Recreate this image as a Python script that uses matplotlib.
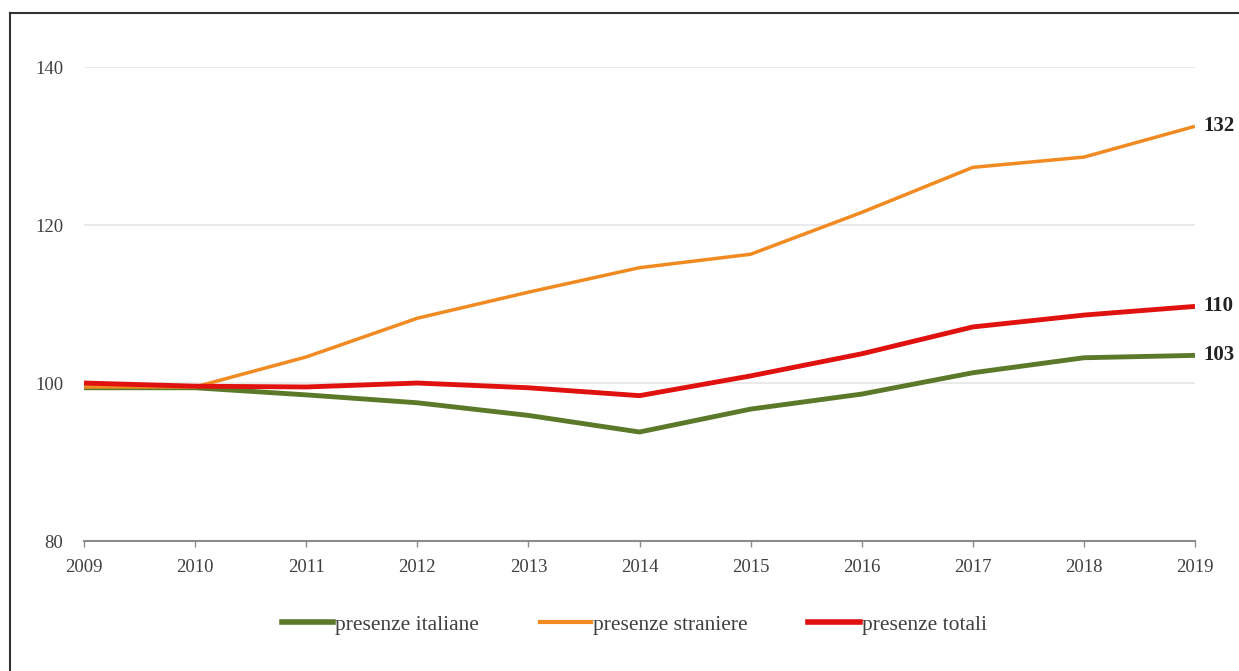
import matplotlib
matplotlib.use("Agg")
import matplotlib.pyplot as plt
from matplotlib.lines import Line2D

years = [2009, 2010, 2011, 2012, 2013, 2014, 2015, 2016, 2017, 2018, 2019]
italiane = [99.4, 99.4, 98.5, 97.5, 95.9, 93.8, 96.7, 98.6, 101.3, 103.2, 103.5]
straniere = [99.5, 99.5, 103.3, 108.2, 111.5, 114.6, 116.3, 121.6, 127.3, 128.6, 132.5]
totali = [100.0, 99.6, 99.5, 100.0, 99.4, 98.4, 100.9, 103.7, 107.1, 108.6, 109.7]
labels = ["presenze italiane", "presenze straniere", "presenze totali"]
end_labels = ["103", "132", "110"]
yticks = [80, 100, 120, 140]

plt.rcParams['font.family'] = ['Liberation Serif', 'DejaVu Serif']

fig = plt.figure(figsize=(12.39, 6.71), dpi=100)
ax = fig.add_axes([0.0678, 0.1937, 0.8967, 0.7064])

c_it = "#5a7a2a"
c_st = "#f28a22"
c_to = "#e0120f"

ax.plot(years, italiane, color=c_it, lw=3.5, label=labels[0], solid_capstyle='butt', zorder=3)
ax.plot(years, straniere, color=c_st, lw=2.5, label=labels[1], solid_capstyle='butt', zorder=3)
ax.plot(years, totali, color=c_to, lw=3.5, label=labels[2], solid_capstyle='butt', zorder=4)

ax.set_xlim(years[0], years[-1])
ax.set_ylim(80, 140)
ax.set_yticks(yticks)
ax.set_xticks(years)
ax.set_xticklabels([str(y) for y in years])
for t in yticks[1:]:
    ax.axhline(t, color="#e6e6e6", lw=1.2, zorder=1)

for s in ["top", "right", "left"]:
    ax.spines[s].set_visible(False)
ax.spines["bottom"].set_color("#8c8c8c")
ax.spines["bottom"].set_linewidth(1.5)
ax.tick_params(axis='y', length=0, pad=15, labelsize=13.5, labelcolor="#404040")
ax.tick_params(axis='x', length=4, width=1, color="#8c8c8c", pad=9, labelsize=13.5, labelcolor="#404040")

for vals, lab in zip([italiane, straniere, totali], end_labels):
    ax.annotate(lab, xy=(years[-1], vals[-1]), xytext=(6, 0), textcoords='offset points',
                va='center', ha='left', fontsize=15, fontweight='bold', color="#222222",
                annotation_clip=False)

handles = [Line2D([0], [0], color=c_it, lw=4),
           Line2D([0], [0], color=c_st, lw=3),
           Line2D([0], [0], color=c_to, lw=4)]
fig.legend(handles, labels, loc='center', bbox_to_anchor=(0.512, 0.069), ncol=3, frameon=False,
           fontsize=15.5, handlelength=2.4, handletextpad=0.1, columnspacing=2.8,
           labelcolor="#404040")

# outer frame
fig.add_artist(Line2D([10/1239, 10/1239], [0, 1 - 13/671], transform=fig.transFigure, color="#333333", lw=1.5))
fig.add_artist(Line2D([10/1239, 1], [1 - 13/671, 1 - 13/671], transform=fig.transFigure, color="#333333", lw=1.5))

fig.savefig("out.png", dpi=100)
